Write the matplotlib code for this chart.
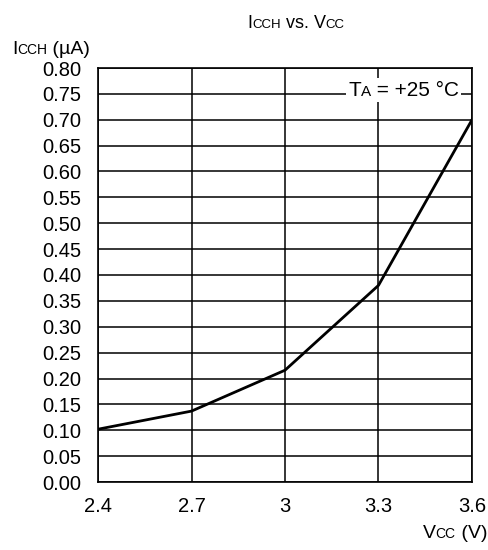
import matplotlib.pyplot as plt
import numpy as np
from matplotlib.offsetbox import TextArea, HPacker, AnnotationBbox

plt.rcParams['font.family'] = ['Liberation Sans', 'DejaVu Sans']

vcc = [2.4, 2.7, 3.0, 3.3, 3.6]
icch = [0.102, 0.137, 0.216, 0.380, 0.700]
x_ticks = [2.4, 2.7, 3.0, 3.3, 3.6]
x_labels = ['2.4', '2.7', '3', '3.3', '3.6']
y_ticks = np.arange(0, 0.81, 0.05)


def mixed_text(fig, parts, xy, align, white=False):
    # parts: list of (text, fontsize); put side by side on one baseline
    boxes = [TextArea(t, textprops=dict(fontsize=s, color='black')) for t, s in parts]
    pack = HPacker(children=boxes, align='baseline', pad=0, sep=0)
    ab = AnnotationBbox(pack, xy, xycoords='figure pixels', box_alignment=align,
                        frameon=white, pad=0.15,
                        bboxprops=dict(facecolor='white', edgecolor='none'))
    ab.set_zorder(5)
    fig.add_artist(ab)


fig = plt.figure(figsize=(4.89, 5.5), dpi=100)
ax = fig.add_axes([98 / 489, 68 / 550, 374 / 489, 414 / 550])

ax.plot(vcc, icch, color='black', lw=2, zorder=3)
ax.set_xlim(2.4, 3.6)
ax.set_ylim(0, 0.8)
ax.set_xticks(x_ticks)
ax.set_xticklabels(x_labels)
ax.set_yticks(y_ticks)
ax.set_yticklabels(['%.2f' % v for v in y_ticks])
ax.tick_params(length=0, labelsize=14.5)
ax.tick_params(axis='y', pad=12)
ax.tick_params(axis='x', pad=11)
ax.grid(True, color='black', lw=1.1)
for s in ax.spines.values():
    s.set_linewidth(1.2)

mixed_text(fig, [('T', 15), ('A', 11), (' = +25 °C', 15)], (459, 550 - 90),
           (1, 0.5), white=True)

mixed_text(fig, [('I', 13), ('CCH', 9.5), (' vs. ', 13), ('V', 13), ('CC', 9.5)],
           (296, 550 - 23), (0.5, 0.5))
mixed_text(fig, [('I', 14), ('CCH', 10), (' (µA)', 14)], (12, 550 - 49),
           (0, 0.5))
mixed_text(fig, [('V', 14), ('CC', 10), (' (V)', 14)], (487, 550 - 533),
           (1, 0.5))

fig.savefig('out.png', dpi=100)
